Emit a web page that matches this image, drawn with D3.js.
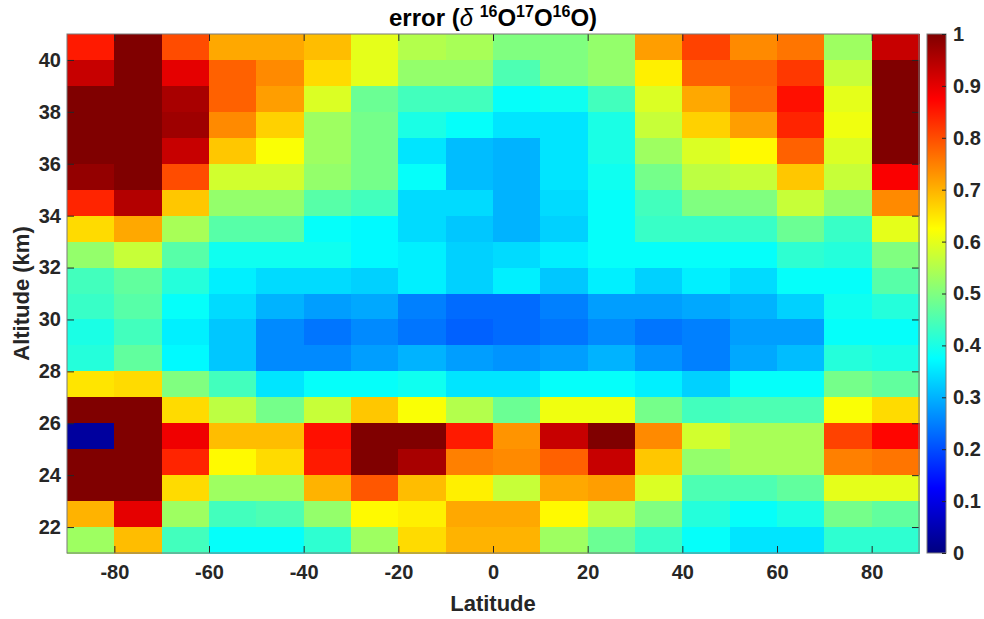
<!DOCTYPE html>
<html>
<head>
<meta charset="utf-8">
<script src="https://cdn.jsdelivr.net/npm/d3@7"></script>
<style>
  body { margin: 0; background: #fff; }
  text { font-family: "Liberation Sans", Arial, Helvetica, sans-serif; }
</style>
</head>
<body>
<div id="chart"></div>
<script>
// bin centres (10 deg latitude x 1 km altitude)
const latitudes = [-85, -75, -65, -55, -45, -35, -25, -15, -5, 5, 15, 25, 35, 45, 55, 65, 75, 85];
const altitudes = [40.5, 39.5, 38.5, 37.5, 36.5, 35.5, 34.5, 33.5, 32.5, 31.5,
                   30.5, 29.5, 28.5, 27.5, 26.5, 25.5, 24.5, 23.5, 22.5, 21.5];

// one row per altitude, top to bottom
const errorRows = [
  [0.85, 1.00, 0.80, 0.71, 0.71, 0.69, 0.60, 0.55, 0.54, 0.50, 0.50, 0.52, 0.72, 0.81, 0.74, 0.76, 0.53, 0.93],
  [0.93, 1.00, 0.90, 0.78, 0.74, 0.66, 0.60, 0.52, 0.52, 0.45, 0.50, 0.52, 0.64, 0.78, 0.78, 0.82, 0.57, 1.00],
  [1.00, 1.00, 0.96, 0.78, 0.72, 0.59, 0.48, 0.44, 0.44, 0.38, 0.39, 0.44, 0.59, 0.71, 0.77, 0.86, 0.60, 1.00],
  [1.00, 1.00, 0.97, 0.74, 0.67, 0.53, 0.49, 0.40, 0.38, 0.35, 0.35, 0.40, 0.57, 0.67, 0.72, 0.84, 0.61, 1.00],
  [1.00, 1.00, 0.93, 0.68, 0.62, 0.53, 0.49, 0.35, 0.31, 0.30, 0.35, 0.40, 0.53, 0.59, 0.63, 0.78, 0.59, 1.00],
  [0.98, 1.00, 0.80, 0.58, 0.58, 0.52, 0.49, 0.38, 0.31, 0.30, 0.35, 0.39, 0.49, 0.56, 0.57, 0.68, 0.57, 0.88],
  [0.84, 0.95, 0.68, 0.52, 0.52, 0.46, 0.44, 0.34, 0.34, 0.30, 0.34, 0.38, 0.44, 0.50, 0.50, 0.57, 0.52, 0.74],
  [0.66, 0.71, 0.54, 0.46, 0.46, 0.38, 0.37, 0.34, 0.32, 0.30, 0.33, 0.38, 0.43, 0.43, 0.43, 0.48, 0.43, 0.60],
  [0.52, 0.57, 0.46, 0.39, 0.39, 0.39, 0.37, 0.36, 0.33, 0.34, 0.36, 0.38, 0.38, 0.38, 0.38, 0.42, 0.41, 0.50],
  [0.44, 0.47, 0.41, 0.36, 0.34, 0.34, 0.33, 0.36, 0.33, 0.36, 0.32, 0.36, 0.33, 0.36, 0.34, 0.38, 0.38, 0.46],
  [0.43, 0.46, 0.38, 0.34, 0.30, 0.28, 0.29, 0.25, 0.23, 0.23, 0.25, 0.28, 0.28, 0.29, 0.30, 0.33, 0.39, 0.41],
  [0.40, 0.44, 0.36, 0.32, 0.26, 0.24, 0.26, 0.24, 0.22, 0.23, 0.24, 0.26, 0.24, 0.25, 0.28, 0.28, 0.38, 0.38],
  [0.41, 0.47, 0.37, 0.32, 0.26, 0.26, 0.28, 0.30, 0.28, 0.27, 0.28, 0.30, 0.27, 0.25, 0.29, 0.31, 0.41, 0.40],
  [0.65, 0.66, 0.50, 0.44, 0.35, 0.38, 0.38, 0.39, 0.35, 0.35, 0.38, 0.38, 0.36, 0.33, 0.38, 0.38, 0.49, 0.47],
  [1.00, 1.00, 0.66, 0.56, 0.49, 0.57, 0.68, 0.62, 0.55, 0.48, 0.61, 0.61, 0.49, 0.44, 0.45, 0.45, 0.62, 0.66],
  [0.03, 1.00, 0.89, 0.69, 0.69, 0.86, 1.00, 1.00, 0.85, 0.73, 0.93, 1.00, 0.74, 0.58, 0.54, 0.54, 0.81, 0.87],
  [1.00, 1.00, 0.84, 0.63, 0.66, 0.85, 1.00, 0.96, 0.75, 0.74, 0.78, 0.93, 0.68, 0.52, 0.54, 0.54, 0.75, 0.76],
  [1.00, 1.00, 0.66, 0.53, 0.53, 0.70, 0.79, 0.69, 0.64, 0.57, 0.71, 0.72, 0.59, 0.45, 0.45, 0.47, 0.60, 0.60],
  [0.70, 0.90, 0.53, 0.44, 0.45, 0.52, 0.63, 0.64, 0.71, 0.71, 0.63, 0.56, 0.50, 0.41, 0.38, 0.40, 0.49, 0.47],
  [0.53, 0.69, 0.44, 0.38, 0.38, 0.42, 0.53, 0.66, 0.70, 0.70, 0.53, 0.48, 0.43, 0.38, 0.35, 0.35, 0.42, 0.42]
];

const xTicks = [-80, -60, -40, -20, 0, 20, 40, 60, 80];
const yTicks = [22, 24, 26, 28, 30, 32, 34, 36, 38, 40];
const cbTicks = [0, 0.1, 0.2, 0.3, 0.4, 0.5, 0.6, 0.7, 0.8, 0.9, 1];

const width = 984, height = 619;
const margin = {top: 34, right: 65, bottom: 66, left: 67};
const plotRight = 919;
const cbLeft = 927, cbWidth = 19;
const ink = "#262626";

// matlab style jet
const jet = t => {
  const c = v => Math.max(0, Math.min(1, v));
  const r = c(1.5 - Math.abs(4 * t - 3));
  const g = c(1.5 - Math.abs(4 * t - 2));
  const b = c(1.5 - Math.abs(4 * t - 1));
  return d3.rgb(r * 255, g * 255, b * 255).formatHex();
};
const color = d3.scaleSequential(jet).domain([0, 1]);

const x = d3.scaleLinear().domain([-90, 90]).range([margin.left, plotRight]);
const y = d3.scaleLinear().domain([21, 41]).range([height - margin.bottom, margin.top]);

const cells = [];
errorRows.forEach((row, i) => row.forEach((v, j) => {
  cells.push({lat: latitudes[j], alt: altitudes[i], v});
}));

const svg = d3.select("#chart")
  .append("svg")
  .attr("width", width)
  .attr("height", height);

svg.append("g")
  .selectAll("rect")
  .data(cells)
  .join("rect")
  .attr("x", d => x(d.lat - 5))
  .attr("y", d => y(d.alt + 0.5))
  .attr("width", d => x(d.lat + 5) - x(d.lat - 5) + 0.5)
  .attr("height", d => y(d.alt - 0.5) - y(d.alt + 0.5) + 0.5)
  .attr("fill", d => color(d.v))
  .attr("shape-rendering", "crispEdges");

const styleAxis = g => {
  g.select(".domain").remove();
  g.selectAll("line").attr("stroke", ink);
  g.selectAll("text")
    .attr("fill", ink)
    .attr("font-size", 20)
    .attr("font-weight", "bold");
};

// plain hyphen for negatives, like matlab
const plain = d => String(d);

svg.append("g")
  .attr("transform", `translate(0,${height - margin.bottom})`)
  .call(d3.axisBottom(x).tickValues(xTicks).tickSizeInner(-7).tickSizeOuter(0).tickPadding(12).tickFormat(plain))
  .call(styleAxis);
svg.append("g")
  .attr("transform", `translate(0,${margin.top})`)
  .call(d3.axisTop(x).tickValues(xTicks).tickSizeInner(-7).tickSizeOuter(0).tickFormat(""))
  .call(styleAxis);
svg.append("g")
  .attr("transform", `translate(${margin.left},0)`)
  .call(d3.axisLeft(y).tickValues(yTicks).tickSizeInner(-7).tickSizeOuter(0).tickPadding(6).tickFormat(plain))
  .call(styleAxis);
svg.append("g")
  .attr("transform", `translate(${plotRight},0)`)
  .call(d3.axisRight(y).tickValues(yTicks).tickSizeInner(-7).tickSizeOuter(0).tickFormat(""))
  .call(styleAxis);

// box
svg.append("rect")
  .attr("x", margin.left)
  .attr("y", margin.top)
  .attr("width", plotRight - margin.left)
  .attr("height", height - margin.bottom - margin.top)
  .attr("fill", "none")
  .attr("stroke", "#7a7a7a")
  .attr("stroke-width", 1);

// colorbar
const cb = d3.scaleLinear().domain([0, 1]).range([height - margin.bottom, margin.top]);
const grad = svg.append("defs")
  .append("linearGradient")
  .attr("id", "jetGrad")
  .attr("x1", 0).attr("y1", 1).attr("x2", 0).attr("y2", 0);
grad.selectAll("stop")
  .data(d3.range(0, 1.0001, 1 / 64))
  .join("stop")
  .attr("offset", d => d)
  .attr("stop-color", d => color(d));

svg.append("rect")
  .attr("x", cbLeft)
  .attr("y", cb(1))
  .attr("width", cbWidth)
  .attr("height", cb(0) - cb(1))
  .attr("fill", "url(#jetGrad)")
  .attr("stroke", "#7a7a7a");

svg.append("g")
  .attr("transform", `translate(${cbLeft + cbWidth},0)`)
  .call(d3.axisRight(cb).tickValues(cbTicks).tickSizeInner(-4).tickSizeOuter(0).tickPadding(7).tickFormat(d3.format("~g")))
  .call(styleAxis);

// labels
svg.append("text")
  .attr("x", (margin.left + plotRight) / 2)
  .attr("y", 611)
  .attr("text-anchor", "middle")
  .attr("font-size", 22)
  .attr("font-weight", "bold")
  .attr("fill", ink)
  .text("Latitude");

svg.append("text")
  .attr("transform", `translate(29,${(margin.top + height - margin.bottom) / 2}) rotate(-90)`)
  .attr("text-anchor", "middle")
  .attr("font-size", 22)
  .attr("font-weight", "bold")
  .attr("fill", ink)
  .text("Altitude (km)");

const title = svg.append("text")
  .attr("x", (margin.left + plotRight) / 2)
  .attr("y", 26)
  .attr("text-anchor", "middle")
  .attr("font-size", 24)
  .attr("font-weight", "bold")
  .attr("fill", "#000");
title.append("tspan").text("error (");
title.append("tspan").attr("font-style", "italic").attr("font-weight", "normal").text("\u03b4 ");
[["16", "O"], ["17", "O"], ["16", "O"]].forEach(([iso, el]) => {
  title.append("tspan").attr("font-size", 16).attr("dy", -9).text(iso);
  title.append("tspan").attr("dy", 9).text(el);
});
title.append("tspan").text(")");
</script>
</body>
</html>
